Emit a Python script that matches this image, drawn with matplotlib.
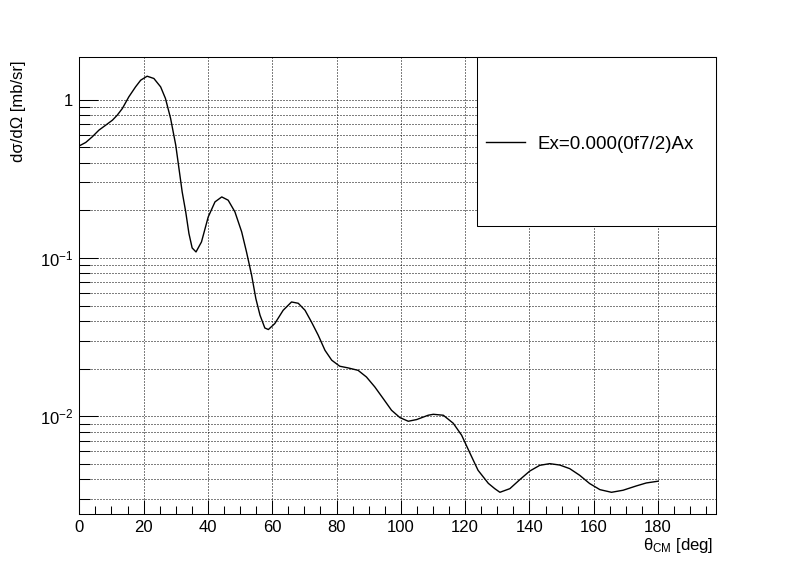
import matplotlib
matplotlib.use('Agg')
import matplotlib.pyplot as plt
from matplotlib.ticker import FixedLocator, FixedFormatter, MultipleLocator, LogLocator, NullFormatter
from matplotlib.patches import Rectangle

plt.rcParams['font.family'] = ['Liberation Sans', 'DejaVu Sans']
plt.rcParams['mathtext.fontset'] = 'custom'
plt.rcParams['mathtext.rm'] = 'Liberation Sans'
plt.rcParams['mathtext.it'] = 'Liberation Sans:italic'
plt.rcParams['mathtext.bf'] = 'Liberation Sans:bold'

# angular distribution (deg, mb/sr)
theta = [0, 2.0, 4.0, 6.1, 8.2, 10.3, 11.8, 13.4, 15.4, 17.5, 19.1, 21.1,
         23.2, 25.3, 26.8, 28.4, 30.0, 31.0, 32.0, 33.1, 34.1, 35.1, 36.3,
         38.0, 40.1, 42.2, 44.3, 46.3, 48.4, 50.5, 52.0, 53.6, 54.9, 56.2,
         57.7, 58.8, 60.8, 63.4, 66.0, 68.1, 70.2, 72.2, 74.3, 76.4, 78.5,
         81.0, 83.6, 86.7, 89.3, 91.9, 94.5, 97.1, 99.7, 102.3, 104.9, 108.5,
         110.1, 113.2, 116.3, 118.9, 121.5, 124.0, 127.2, 129.2, 130.8, 133.9,
         137.0, 140.1, 143.2, 146.3, 149.4, 152.5, 155.6, 158.7, 161.9, 165.5,
         169.1, 173.2, 176.3, 180]
xsec = [0.510, 0.536, 0.581, 0.641, 0.689, 0.741, 0.797, 0.879, 1.040, 1.203,
        1.326, 1.405, 1.359, 1.203, 1.016, 0.760, 0.515, 0.367, 0.261, 0.1953,
        0.1426, 0.1156, 0.1091, 0.1262, 0.1816, 0.2259, 0.2428, 0.2315, 0.1953,
        0.1460, 0.1091, 0.0777, 0.0554, 0.0435, 0.0361, 0.0353, 0.0385, 0.0467,
        0.0527, 0.0517, 0.0467, 0.0394, 0.0325, 0.0261, 0.0226, 0.0207, 0.0202,
        0.0195, 0.0177, 0.01532, 0.01294, 0.01091, 0.00981, 0.00930, 0.00953,
        0.01015, 0.01029, 0.01015, 0.00903, 0.00759, 0.00584, 0.00456, 0.00377,
        0.00349, 0.00331, 0.00349, 0.00398, 0.00451, 0.00490, 0.00502, 0.00492,
        0.00467, 0.00424, 0.00376, 0.00344, 0.00331, 0.00341, 0.00363, 0.00379,
        0.00389]

y_major = [0.01, 0.1, 1]
y_major_labels = [r'$10^{-2}$', r'$10^{-1}$', '1']
legend_label = 'Ex=0.000(0f7/2)Ax'

fig = plt.figure(figsize=(7.96, 5.72), dpi=100)
ax = fig.add_axes([0.0996, 0.1009, 0.7999, 0.7989])

ax.plot(theta, xsec, color='black', lw=1.0, label=legend_label)

ax.set_yscale('log')
ax.set_xlim(0, 198)
ax.set_ylim(0.002404, 1.849)

ax.xaxis.set_major_locator(MultipleLocator(20))
ax.xaxis.set_minor_locator(MultipleLocator(5))
ax.yaxis.set_major_locator(FixedLocator(y_major))
ax.yaxis.set_major_formatter(FixedFormatter(y_major_labels))
ax.yaxis.set_minor_locator(LogLocator(base=10, subs=range(2, 10)))
ax.yaxis.set_minor_formatter(NullFormatter())

ax.tick_params(which='both', direction='in', top=False, right=False,
               width=0.75, labelsize=12)
ax.tick_params(axis='x', which='major', length=9.8, pad=4)
ax.tick_params(axis='x', which='minor', length=5.5)
ax.tick_params(axis='y', which='major', length=13.7, pad=4.5)
ax.tick_params(axis='y', which='minor', length=7.7)

grid_style = dict(color='black', lw=0.72, linestyle=(0, (1, 2)))
ax.grid(True, axis='x', which='major', **grid_style)
ax.grid(True, axis='y', which='both', **grid_style)
ax.set_axisbelow(False)

for sp in ax.spines.values():
    sp.set_linewidth(0.75)

ax.set_xlabel('θ$_{\\mathrm{CM}}$ [deg]', fontsize=12, loc='right')
ax.xaxis.set_label_coords(0.9953, -0.047)
ax.set_ylabel('dσ/dΩ [mb/sr]', fontsize=12, loc='top')
ax.yaxis.set_label_coords(-0.083, 0.9926)

# legend box (ROOT TLegend style, no shadow)
ax.add_patch(Rectangle((0.6251, 0.6315), 0.3749, 0.3685, transform=ax.transAxes,
                       facecolor='white', edgecolor='black', lw=0.75,
                       zorder=5, clip_on=False))
leg = ax.legend(loc='center left', bbox_to_anchor=(0.6388, 0.8096),
                frameon=False, fontsize=13.5, handlelength=2.08,
                handletextpad=0.69, borderpad=0, borderaxespad=0)
leg.set_zorder(6)

fig.savefig('out.png', dpi=100)
